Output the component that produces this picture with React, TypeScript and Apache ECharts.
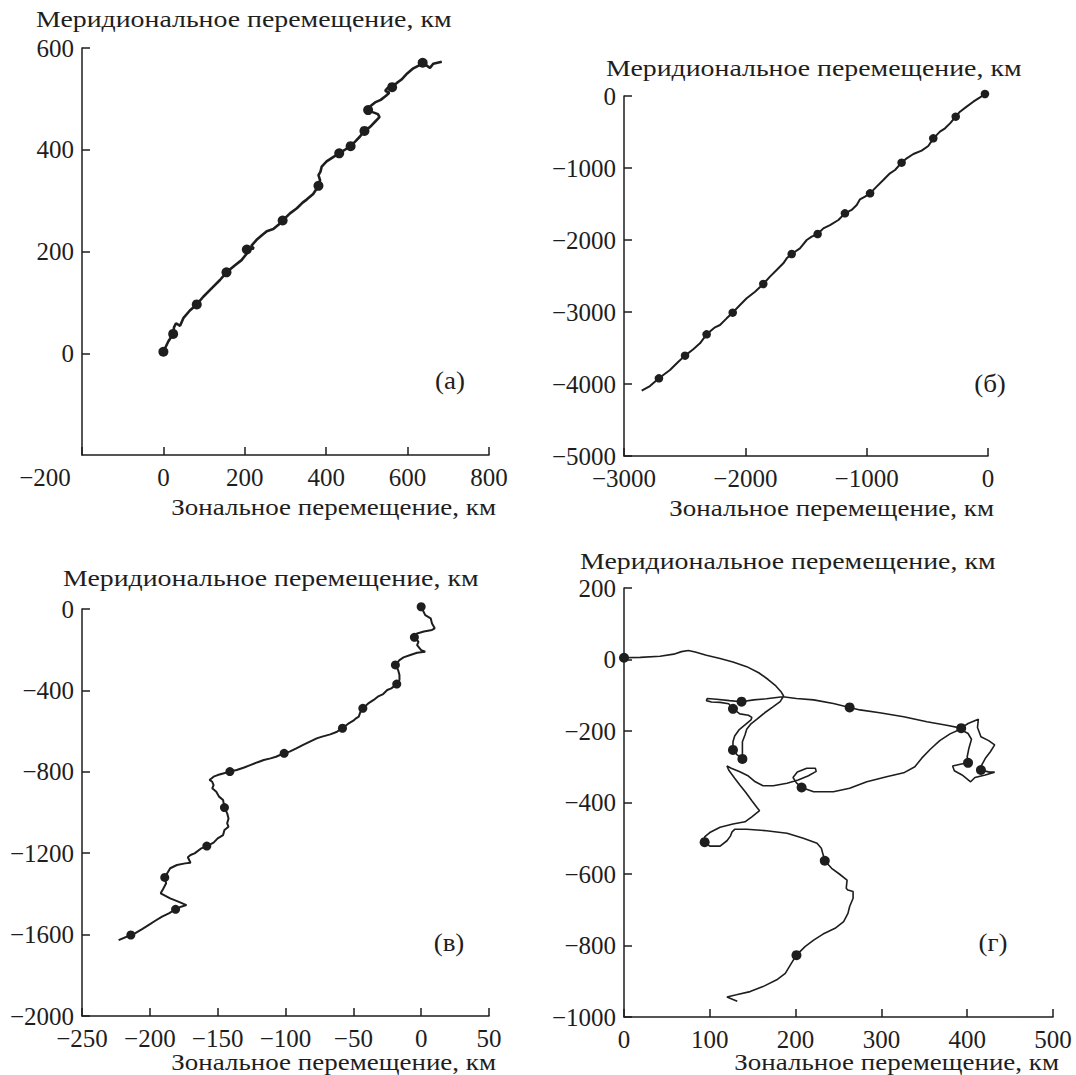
import React, { useEffect, useRef } from 'react';
import * as echarts from 'echarts';

const FONT = 'Liberation Serif';
const INK = '#1e1e1e';
const FS = 25;
const NAME_FS = 24;

// ---- Axis settings (min, max, step) ----
const axesA = { xMin: -200, xMax: 800, xStep: 200, yMin: -200, yMax: 600, yStep: 200 };
const axesB = { xMin: -3000, xMax: 0, xStep: 1000, yMin: -5000, yMax: 0, yStep: 1000 };
const axesV = { xMin: -250, xMax: 50, xStep: 50, yMin: -2000, yMax: 0, yStep: 400 };
const axesG = { xMin: 0, xMax: 500, xStep: 100, yMin: -1000, yMax: 200, yStep: 200 };

const yName = 'Меридиональное перемещение, км';
const xName = 'Зональное перемещение, км';
const panelLetters = ['(а)', '(б)', '(в)', '(г)'];

// ---- Panel (а) ----
const trackA = [
  [0, 3], [12, 23], [24, 38], [26, 51], [31, 59], [41, 54], [49, 69], [65, 84], [82, 96], [98, 111],
  [119, 128], [139, 144], [155, 159], [176, 173], [192, 183], [205, 196], [206, 204], [222, 206], [216, 211],
  [229, 223], [242, 232], [254, 240], [270, 244], [282, 252], [293, 261], [311, 275], [328, 285], [342, 296],
  [352, 302], [368, 313], [381, 329], [385, 340], [381, 350], [386, 357], [389, 367], [401, 377], [418, 386],
  [432, 393], [446, 400], [460, 407], [471, 416], [483, 426], [494, 437], [508, 445], [520, 455], [531, 464],
  [527, 470], [514, 474], [503, 478], [509, 486], [520, 493], [534, 498], [547, 506], [555, 512], [545, 516],
  [550, 521], [562, 523], [573, 531], [585, 538], [599, 550], [614, 560], [626, 565], [637, 571], [655, 561],
  [663, 569], [684, 573],
];
const dotsA = [
  [0, 3], [24, 38], [82, 96], [155, 159], [205, 204], [293, 261], [381, 329], [432, 393], [460, 407],
  [494, 437], [503, 478], [562, 523], [637, 571],
];

// ---- Panel (б) ----
const trackB = [
  [-2854, -4093], [-2786, -4028], [-2712, -3921], [-2621, -3806], [-2552, -3690], [-2497, -3606],
  [-2429, -3518], [-2374, -3435], [-2319, -3310], [-2250, -3213], [-2209, -3181], [-2154, -3088],
  [-2104, -3009], [-2044, -2903], [-1989, -2810], [-1920, -2718], [-1852, -2611], [-1797, -2509],
  [-1742, -2417], [-1687, -2324], [-1659, -2255], [-1618, -2194], [-1550, -2116], [-1494, -2000],
  [-1453, -1954], [-1404, -1917], [-1357, -1838], [-1302, -1792], [-1233, -1722], [-1179, -1630],
  [-1124, -1583], [-1082, -1514], [-1055, -1435], [-1014, -1398], [-972, -1352], [-918, -1259],
  [-863, -1167], [-808, -1074], [-766, -1028], [-712, -926], [-670, -866], [-615, -806], [-547, -759],
  [-492, -694], [-450, -588], [-396, -495], [-354, -449], [-313, -380], [-266, -287], [-231, -218],
  [-176, -148], [-121, -79], [-66, -19], [-25, 28],
];
const dotsB = [
  [-25, 28], [-266, -287], [-451, -588], [-712, -926], [-972, -1352], [-1179, -1630], [-1404, -1917],
  [-1618, -2195], [-1852, -2611], [-2104, -3009], [-2319, -3310], [-2497, -3606], [-2712, -3921],
];

// ---- Panel (в) ----
const trackV = [
  [0, 11], [3, -30], [7, -46], [8, -71], [10, -95], [8, -103], [2, -111], [-3, -120], [-5, -139], [-2, -161],
  [-3, -177], [0, -202], [3, -210], [-3, -215], [-8, -226], [-13, -238], [-16, -251], [-19, -275], [-17, -300],
  [-16, -324], [-16, -349], [-18, -369], [-22, -390], [-25, -398], [-28, -418], [-32, -431], [-35, -447],
  [-39, -464], [-43, -488], [-45, -509], [-46, -529], [-48, -537], [-50, -549], [-54, -565], [-58, -586],
  [-62, -603], [-67, -616], [-73, -627], [-77, -636], [-82, -652], [-87, -668], [-92, -685], [-97, -701],
  [-101, -709], [-107, -726], [-111, -734], [-116, -742], [-121, -754], [-126, -767], [-131, -780],
  [-136, -791], [-141, -799], [-146, -808], [-150, -816], [-153, -824], [-156, -840], [-154, -849],
  [-153, -865], [-154, -881], [-151, -898], [-149, -922], [-146, -939], [-145, -976], [-143, -1004],
  [-142, -1029], [-143, -1053], [-142, -1070], [-145, -1086], [-146, -1111], [-150, -1127], [-153, -1148],
  [-158, -1165], [-162, -1176], [-167, -1201], [-170, -1209], [-172, -1220], [-170, -1247], [-174, -1250],
  [-180, -1258], [-185, -1274], [-189, -1319], [-188, -1348], [-190, -1373], [-192, -1397], [-185, -1422],
  [-179, -1438], [-173, -1455], [-177, -1463], [-181, -1476], [-186, -1496], [-191, -1512], [-196, -1532],
  [-201, -1553], [-206, -1574], [-211, -1594], [-214, -1602], [-223, -1627],
];
const dotsV = [
  [0, 11], [-5, -139], [-19, -275], [-18, -369], [-43, -488], [-58, -586], [-101, -709], [-141, -799],
  [-145, -976], [-158, -1165], [-189, -1319], [-181, -1476], [-214, -1602],
];

// ---- Panel (г) ----
const trackG = [
  [0, 5], [19, 6], [42, 9], [58, 15], [67, 22], [75, 25], [83, 21], [96, 12], [112, 3], [127, -7], [143, -20],
  [157, -37], [168, -56], [177, -74], [183, -90], [186, -102],
  [182, -118], [174, -132], [164, -149], [155, -167], [148, -180], [143, -195], [141, -211], [138, -230],
  [138, -253], [138, -278], [132, -267], [127, -253], [127, -230], [129, -214], [134, -197], [141, -183],
  [148, -169], [149, -162], [145, -156], [135, -152], [130, -143], [127, -138], [122, -124], [112, -120],
  [102, -119], [96, -115], [97, -109], [108, -111], [123, -115], [137, -118], [151, -113], [166, -110],
  [185, -104], [201, -109], [221, -113], [244, -123], [263, -134], [275, -141], [298, -149], [326, -160],
  [353, -174], [376, -184], [393, -192],
  [401, -179], [413, -167], [412, -190], [416, -216], [425, -227], [432, -239], [427, -258], [421, -277],
  [417, -295], [416, -309], [426, -315], [432, -315], [421, -323], [409, -330], [404, -342], [394, -323],
  [385, -311], [383, -298], [392, -293], [401, -289], [400, -272], [402, -248], [405, -223], [401, -207],
  [392, -195],
  [380, -208], [368, -227], [357, -251], [347, -276], [339, -300], [326, -317], [306, -328], [283, -342],
  [263, -360], [244, -370], [221, -370], [207, -358],
  [201, -345], [197, -330], [202, -315], [213, -304], [223, -304], [224, -313], [215, -325], [203, -337],
  [190, -346], [174, -353], [162, -353], [153, -342], [145, -326], [135, -314], [125, -304], [120, -298],
  [122, -309],
  [129, -332], [135, -351], [142, -372], [149, -395], [155, -414], [158, -423], [149, -440], [141, -454],
  [127, -460], [112, -469], [100, -484], [94, -496], [94, -511], [100, -522], [112, -522], [120, -507],
  [124, -494], [126, -482], [129, -475], [143, -475], [166, -479], [190, -486], [209, -500], [225, -514],
  [230, -528], [234, -563], [242, -584], [251, -600], [260, -617], [259, -640], [261, -645], [267, -649],
  [267, -668], [263, -691], [261, -710], [256, -733], [246, -752], [232, -768], [221, -785], [211, -803],
  [201, -827], [195, -850], [188, -878], [178, -896], [162, -915], [147, -929], [131, -938], [120, -944],
  [132, -956],
];
const dotsG = [
  [0, 5], [137, -118], [127, -138], [263, -134], [393, -192], [127, -253], [138, -278], [401, -289],
  [416, -309], [207, -358], [94, -511], [234, -563], [201, -827],
];

// ---- layout ----
const grids = [
  { left: 82, top: 48, width: 407, height: 407 },
  { left: 624, top: 96, width: 364, height: 360 },
  { left: 82, top: 609, width: 407, height: 407 },
  { left: 624, top: 588, width: 429, height: 429 },
];
const yNamePos = [[36, 19], [606, 68], [63, 578], [580, 561]];
const xNamePos = [[496, 507], [994, 508], [496, 1062], [1059, 1062]];
const letterPos = [[450, 381], [990, 384], [449, 943], [993, 943]];
const lineWidths = [2.6, 2, 2, 1.6];
const dotSizes = [10, 8.5, 9, 10];

const fmt = (v: number) => (v < 0 ? '\u2212' + Math.abs(v) : String(v));

function makeX(i: number, a: any, extraLabel: any = {}) {
  return {
    type: 'value', gridIndex: i, min: a.xMin, max: a.xMax, interval: a.xStep,
    axisLine: { show: true, onZero: false, lineStyle: { color: INK, width: 1.5 } },
    axisTick: { show: true, inside: true, length: 8, lineStyle: { color: INK, width: 1.5 } },
    splitLine: { show: false },
    axisLabel: {
      fontFamily: FONT, fontSize: FS, color: INK, margin: 12.5, lineHeight: 20, formatter: fmt, ...extraLabel,
    },
  };
}
function makeY(i: number, a: any, extraLabel: any = {}) {
  return {
    type: 'value', gridIndex: i, min: a.yMin, max: a.yMax, interval: a.yStep,
    axisLine: { show: true, onZero: false, lineStyle: { color: INK, width: 1.5 } },
    axisTick: { show: true, inside: true, length: 8, lineStyle: { color: INK, width: 1.5 } },
    splitLine: { show: false },
    axisLabel: { fontFamily: FONT, fontSize: FS, color: INK, margin: 8, lineHeight: 20, formatter: fmt, ...extraLabel },
  };
}

const tracks = [trackA, trackB, trackV, trackG];
const dots = [dotsA, dotsB, dotsV, dotsG];

function buildOption() {
  const series: any[] = [];
  tracks.forEach((t, i) => {
    series.push({
      type: 'line', xAxisIndex: i, yAxisIndex: i, data: t, showSymbol: false, symbol: 'none',
      clip: false, lineStyle: { color: INK, width: lineWidths[i] }, z: 2,
    });
    series.push({
      type: 'scatter', xAxisIndex: i, yAxisIndex: i, data: dots[i], symbol: 'circle', clip: false,
      symbolSize: dotSizes[i], itemStyle: { color: INK, opacity: 1 }, z: 3,
    });
  });
  const txt = (x: number, y: number, text: string, align: string, size: number, sx: number) => ({
    type: 'text', x, y, scaleX: sx, silent: true,
    style: { text, fontFamily: FONT, fontSize: size, lineHeight: 20, fill: INK, align, verticalAlign: 'middle' },
  });
  const graphic: any[] = [];
  for (let i = 0; i < 4; i++) {
    graphic.push(txt(yNamePos[i][0], yNamePos[i][1], yName, 'left', NAME_FS, 1.16));
    graphic.push(txt(xNamePos[i][0], xNamePos[i][1], xName, 'right', NAME_FS, 1.125));
    graphic.push(txt(letterPos[i][0], letterPos[i][1], panelLetters[i], 'center', 25, 1.08));
  }
  return {
    animation: false,
    backgroundColor: '#ffffff',
    textStyle: { fontFamily: FONT },
    grid: grids,
    xAxis: [
      makeX(0, axesA, {
        formatter: (v: number) => (v === axesA.xMin ? '{s|' + fmt(v) + '}' : fmt(v)),
        rich: { s: { fontFamily: FONT, fontSize: FS, color: INK, lineHeight: 20, padding: [0, 74, 0, 0] } },
      }),
      makeX(1, axesB),
      makeX(2, axesV),
      makeX(3, axesG),
    ],
    yAxis: [
      makeY(0, axesA, { showMinLabel: false }),
      makeY(1, axesB),
      makeY(2, axesV),
      makeY(3, axesG),
    ],
    series,
    graphic,
  };
}

export default function App() {
  const ref = useRef<HTMLDivElement>(null);
  useEffect(() => {
    if (!ref.current) return;
    const chart = echarts.init(ref.current, null, { renderer: 'svg' });
    chart.setOption(buildOption() as any);
    return () => chart.dispose();
  }, []);
  return (
    <div
      ref={ref}
      style={{ position: 'absolute', left: 0, top: 0, width: 1076, height: 1075, background: '#fff' }}
    />
  );
}
